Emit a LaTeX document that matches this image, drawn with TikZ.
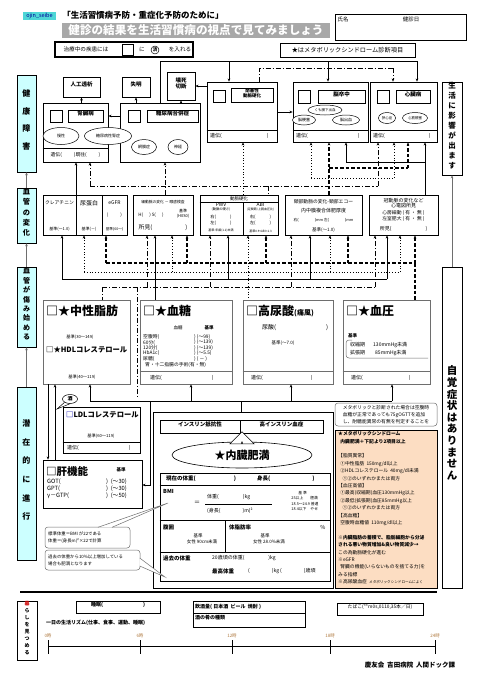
\documentclass[tikz,border=0pt]{standalone}
\usepackage{fontspec}
\setmainfont{Noto Sans CJK JP}
\usetikzlibrary{arrows.meta, positioning, fit, shapes.geometric, shapes.arrows, calc}
\definecolor{sidecyan}{HTML}{CCFFFF}
\definecolor{tagcyan}{HTML}{4ED6D6}
\definecolor{metapeach}{HTML}{FCDDC2}
\definecolor{bannergray}{HTML}{A8A8A8}
\definecolor{framegray}{HTML}{6E6E6E}
\definecolor{hourbrown}{HTML}{B07A40}
\newcommand{\fsz}[2]{\fontsize{#1}{#2}\selectfont}
\tikzstyle{frame} = [draw=black, line width=0.6pt, inner sep=0pt]
\tikzstyle{softframe} = [draw=framegray, line width=0.6pt, inner sep=0pt]
\tikzstyle{sidebox} = [frame, fill=sidecyan, align=center]
\tikzstyle{sqbox} = [frame, inner sep=0pt]
\tikzstyle{tagbox} = [frame, font=\fsz{5.5}{6.5}\bfseries, align=center]
\tikzstyle{oval} = [ellipse, draw=black, line width=0.5pt, fill=white, inner sep=0pt, font=\fsz{4}{5}]
\tikzstyle{txt} = [inner sep=0pt, font=\fsz{4.5}{5.5}]
\tikzstyle{big} = [inner sep=0pt, anchor=west, font=\fsz{12}{13}\bfseries]
\tikzstyle{link} = [line width=0.7pt]
\tikzstyle{headed} = [-{Stealth[length=3.2pt,width=2.6pt]}]
\tikzstyle{dotlink} = [line width=0.8pt, dotted]
\tikzstyle{dashlink} = [line width=1.1pt, dash pattern=on 3.5pt off 2pt]
\tikzstyle{ddlink} = [line width=0.8pt, dash pattern=on 5pt off 2pt on 1.2pt off 2pt]
\tikzstyle{sidelink} = [draw=framegray, line width=0.6pt, -{Stealth[length=3pt,width=2.5pt]}]

\begin{document}
\begin{tikzpicture}[x=1pt, y=-1pt]
  \fill[white] (0,0) rectangle (478,678);
  \useasboundingbox (0,0) rectangle (478,678);

  % === HEADER ===
  \node (tag) [fill=tagcyan, text=blue!60!black, inner sep=0pt, minimum width=33pt, minimum height=8pt, font=\fsz{5.5}{6}] at (39.5,16) {ojin\_seibe};
  \node (title) [txt, font=\fsz{8.5}{9}\bfseries] at (143,15) {「生活習慣病予防・重症化予防のために」};
  \node (banner) [fill=bannergray, inner sep=0pt, fit={(62,23) (330,38)}] {};
  \node (bannertxt) [txt, text=white, font=\fsz{11.6}{12}\bfseries] at (banner.center) {健診の結果を生活習慣病の視点で見てみましょう};
  \node (namebox) [frame, fit={(335,14) (466,40)}] {};
  \node (namelbl) [txt, font=\fsz{5.5}{6}] at (343,19) {氏名};
  \node (datelbl) [txt, font=\fsz{5.5}{6}] at (411,19) {健診日};
  \node (legend) [frame, line width=1.2pt, fit={(55,42) (193,57)}] {};
  \node (legtxt1) [txt, font=\fsz{5.6}{6}] at (86,49.5) {治療中の疾患には};
  \node (legsq) [sqbox, fit={(122,44.5) (133,55)}] {};
  \node (legni) [txt, font=\fsz{5.6}{6}] at (142,49.5) {に};
  \node (legdone) [circle, draw, line width=0.5pt, inner sep=0.6pt, font=\fsz{4.5}{5}\bfseries] at (155,50) {済};
  \node (legtxt2) [txt, font=\fsz{5.6}{6}] at (180,49.5) {を入れる};
  \node (starnote) [frame, line width=0.9pt, fit={(280,43) (415,57)}] {};
  \node (startxt) [txt, font=\fsz{6.2}{7}] at (starnote.center) {★はメタボリックシンドローム診断項目};

  % === SIDE BARS ===
  \node (health) [sidebox, fit={(17,75) (36,172)}, font=\fsz{8}{17.5}\bfseries] {健\\康\\障\\害};
  \node (vessel) [sidebox, fit={(17,188) (36,243)}, font=\fsz{7.2}{10.2}\bfseries] {血\\管\\の\\変\\化};
  \node (damage) [sidebox, fit={(17,267) (36,347)}, font=\fsz{7}{9.4}\bfseries] {血\\管\\が\\傷\\み\\始\\め\\る};
  \node (latent) [sidebox, fit={(17,387) (36,560)}, font=\fsz{8}{18.6}\bfseries] {潜\\在\\的\\に\\進\\行};
  \node (lifeeff) [frame, align=center, fit={(442,82) (462,175)}, font=\fsz{7.5}{10}\bfseries] {生\\活\\に\\影\\響\\が\\出\\ま\\す};
  \node (nosym) [frame, align=center, fit={(442,267) (462,588)}, font=\fsz{10.5}{11.6}\bfseries] {自\\覚\\症\\状\\は\\あ\\り\\ま\\せ\\ん};

  \draw[sidelink] (vessel.north) -- (health.south);
  \draw[sidelink] (damage.north) -- (vessel.south);
  \draw[sidelink] (latent.north) -- (damage.south);
  \draw[sidelink] (nosym.north) -- (lifeeff.south);

  % === HEALTH DAMAGE ROW ===
  \node (dialysis) [tagbox, fit={(63,77) (100,97)}] {人工透析};
  \node (blind) [tagbox, fit={(122,77) (150,97)}] {失明};
  \node (necro) [tagbox, fit={(167,72) (195,100)}] {壊死\\切断};

  \node (kidney) [frame, fit={(43,103) (108,162)}] {};
  \draw[link] (kidney.west |- 0,148) -- (kidney.east |- 0,148);
  \node (kidsq) [sqbox, fit={(50,110) (62,122)}] {};
  \node (kidlbl) [tagbox, fit={(68,110) (103,122)}] {腎臓病};
  \node (kidhist) [txt, font=\fsz{4.8}{6}] at (75.5,155) {遺伝(\hspace{12pt})既往(\hspace{12pt})};

  \node (diab) [frame, fit={(120,103) (200,162)}] {};
  \node (diabsq) [sqbox, fit={(128,110) (140,122)}] {};
  \node (diablbl) [tagbox, fit={(147,110) (198,122)}] {糖尿病合併症};
  \node (chronic) [oval, minimum width=36pt, minimum height=17pt] at (61,136) {慢性};
  \node (dmneph) [oval, minimum width=47pt, minimum height=17pt] at (108,136) {糖尿病性腎症};
  \node (retina) [oval, minimum width=25pt, minimum height=15pt] at (144,147) {網膜症};
  \node (nerve) [oval, minimum width=20pt, minimum height=15pt] at (178,147) {神経};

  \node (artery) [frame, fit={(207,82) (277,142)}] {};
  \draw[link] (artery.west |- 0,130) -- (artery.east |- 0,130);
  \node (artsq) [sqbox, fit={(213,90) (225,102)}] {};
  \node (artlbl) [tagbox, fit={(231,88) (273,102)}, font=\fsz{4.5}{5}\bfseries] {閉塞性\\動脈硬化};
  \node (arthist) [txt, anchor=west, font=\fsz{5}{6}] at (210,136) {遺伝(\hspace{45pt})};

  \node (stroke) [frame, fit={(293,82) (368,142)}] {};
  \draw[link] (stroke.west |- 0,130) -- (stroke.east |- 0,130);
  \node (strsq) [sqbox, fit={(298,90) (310,103)}] {};
  \node (strlbl) [tagbox, fit={(318,90) (365,103)}] {脳卒中};
  \node (subarach) [oval, minimum width=34pt, minimum height=10pt, font=\fsz{3.5}{4}] at (325,110) {くも膜下出血};
  \node (infarct) [oval, minimum width=23pt, minimum height=10pt] at (304,120) {脳梗塞};
  \node (bleed) [oval, minimum width=27pt, minimum height=10pt] at (346,120) {脳出血};
  \node (strhist) [txt, anchor=west, font=\fsz{5}{6}] at (296,136) {遺伝(\hspace{50pt})};

  \node (heart) [frame, fit={(370,82) (437,142)}] {};
  \draw[link] (heart.west |- 0,130) -- (heart.east |- 0,130);
  \node (hrtsq) [sqbox, fit={(377,90) (389,103)}] {};
  \node (hrtlbl) [tagbox, fit={(396,90) (430,103)}] {心臓病};
  \node (angina) [oval, minimum width=17pt, minimum height=11pt, font=\fsz{3.5}{4}] at (387,118) {狭心症};
  \node (mi) [oval, minimum width=25pt, minimum height=11pt, font=\fsz{3.5}{4}] at (415,118) {心筋梗塞};
  \node (hrthist) [txt, anchor=west, font=\fsz{5}{6}] at (373,136) {遺伝(\hspace{44pt})};

  \draw[link, headed] (kidney.north -| dialysis.south) -- (dialysis.south);
  \draw[link, headed] (diab.north -| blind.south) -- (blind.south);
  \draw[link, headed] (diab.north -| necro.south) -- (necro.south);
  \draw[link, headed] (diab.west |- kidlbl.center) -- (kidney.east |- kidlbl.center);
  \draw[link, headed] (artery.west |- necro.center) -- (necro.east);
  \draw[link, headed] (artery.east |- 0,112) -- (stroke.west |- 0,112);

  \coordinate (topL) at (160,61);
  \coordinate (topR) at (417,61);
  \draw[link] (topL |- diab.north) -- (topL) -- (topR);
  \draw[link, headed] (topR) -- (topR |- heart.north);
  \draw[link, headed] (229,61) -- (229,61 |- artery.north);
  \draw[link, headed] (328,61) -- (328,61 |- stroke.north);
  \coordinate (ddtopL) at (259,68);
  \coordinate (ddtopR) at (393,68);
  \draw[ddlink] (ddtopL |- artery.north) -- (ddtopL) -- (ddtopR);
  \draw[ddlink, headed] (ddtopR) -- (ddtopR |- heart.north);

  % === VESSEL CHANGE ROW ===
  \node (renal) [frame, fit={(43,195) (127,235)}] {};
  \draw[link] (76,195) -- (76,235);
  \draw[link] (102,195) -- (102,235);
  \node (creat) [txt, font=\fsz{4.8}{5}] at (59.5,203) {クレアチニン};
  \node (uprot) [txt, font=\fsz{6}{6}] at (89,203) {尿蛋白};
  \node (egfr) [txt, font=\fsz{5}{6}] at (114.5,203) {eGFR};
  \node (egfrv) [txt] at (114.5,215) {(\hspace{12pt})};
  \node (creatref) [txt, font=\fsz{4}{5}] at (59.5,229) {基準(～1.0)};
  \node (uprotref) [txt, font=\fsz{4}{5}] at (89,229) {基準(－)};
  \node (egfrref) [txt, font=\fsz{3.6}{5}] at (114.5,229) {基準(60～)};

  \node (fundus) [frame, fit={(133,195) (193,235)}] {};
  \node (fundhd) [txt, font=\fsz{3.8}{5}] at (163,202) {細動脈の変化\ －\ 眼底検査};
  \node (fundhs) [txt, font=\fsz{4.5}{5}] at (151,215) {H(\hspace{6pt})\ S(\hspace{6pt})};
  \node (fundref) [txt, align=center, font=\fsz{4}{5}] at (183,214) {基準\\(H0S0)};
  \node (fundobs) [txt, font=\fsz{5.8}{6}] at (163,228) {所見(\hspace{33pt})};

  \node (stiff) [frame, fit={(200,195) (278,235)}] {};
  \draw[link] (stiff.west |- 0,202) -- (stiff.east |- 0,202);
  \draw[link] (243,202) -- (243,235);
  \node (stiffhd) [txt, font=\fsz{4.5}{5}] at (239,198.5) {動脈硬化};
  \node (pwv) [txt, align=center, font=\fsz{5}{4}] at (221,207) {PWV\\[-0.5pt]{\fsz{3.3}{4}(動脈の硬さ)}};
  \node (pwvlr) [txt, align=left, font=\fsz{4.3}{6}] at (221,220) {右(\hspace{14pt})\\左(\hspace{14pt})};
  \node (pwvref) [txt, font=\fsz{3}{4}] at (221,231) {基準:年齢(1.2)未満};
  \node (abi) [txt, align=center, font=\fsz{5}{4}] at (260.5,207) {ABI\\[-0.5pt]{\fsz{3}{4}(足関節/上腕血圧比)}};
  \node (abilr) [txt, align=left, font=\fsz{4.3}{6}] at (260.5,220) {右(\hspace{14pt})\\左(\hspace{14pt})};
  \node (abiref) [txt, font=\fsz{3}{4}] at (260.5,231) {基準0.9<ABI<1.3};

  \node (carotid) [frame, fit={(285,195) (362,235)}] {};
  \node (carhd) [txt, font=\fsz{4.8}{5}] at (323.5,202) {頸部動脈の変化-頸部エコー};
  \node (carimt) [txt, font=\fsz{5}{5}] at (323.5,211) {内中膜複合体肥厚度};
  \node (carlr) [txt, font=\fsz{3.8}{5}] at (323.5,220) {右(\hspace{16pt})mm\ 左(\hspace{16pt})mm};
  \node (carref) [txt, font=\fsz{4.5}{5}] at (323.5,230) {基準(～1.0)};

  \node (ecg) [frame, fit={(369,195) (438,235)}] {};
  \node (ecghd) [txt, align=center, font=\fsz{5}{5.6}] at (403.5,203) {冠動脈の変化など\\心電図所見};
  \node (ecgaf) [txt, align=left, font=\fsz{4.8}{6}] at (403.5,216) {心房細動\ (\ 有\ ・\ 無\ )\\左室肥大\ (\ 有\ ・\ 無\ )};
  \node (ecgobs) [txt, font=\fsz{5}{6}] at (403.5,229) {所見(\hspace{34pt})};

  % === RISK FACTOR LINKS (row 1 - row 2) ===
  \draw[link, headed] (renal.north -| 76,0) -- (76,0 |- kidney.south);
  \coordinate (ddmidL) at (90,186);
  \coordinate (ddmidR) at (378,186);
  \draw[ddlink, headed] (ddmidL) -- (ddmidL |- kidney.south);
  \draw[ddlink] (ddmidL) -- (ddmidR);
  \draw[ddlink, headed] (ddmidR) -- (ddmidR |- heart.south);
  \draw[ddlink, headed] (fundus.north -| 165,0) -- (165,0 |- diab.south);
  \draw[ddlink] (268,186) -- (268,186 |- carotid.north);
  \draw[dotlink, headed] (stiff.north -| 243,0) -- (243,0 |- artery.south);
  \coordinate (dotmidL) at (311,178);
  \coordinate (dotmidR) at (394,178);
  \draw[dotlink, headed] (dotmidL) -- (dotmidL |- stroke.south);
  \draw[dotlink] (dotmidL) -- (dotmidR);
  \draw[dotlink, headed] (dotmidR) -- (dotmidR |- heart.south);
  \coordinate (dashmidL) at (329,168);
  \coordinate (dashmidR) at (408,168);
  \draw[dashlink, headed] (carotid.north -| dashmidL) -- (dashmidL |- stroke.south);
  \draw[dashlink] (dashmidL) -- (dashmidR);
  \draw[dashlink, headed] (dashmidR) -- (dashmidR |- heart.south);
  \coordinate (solmidL) at (346,162);
  \coordinate (solmidR) at (425,162);
  \draw[link, headed] (solmidL) -- (solmidL |- stroke.south);
  \draw[link] (solmidL) -- (solmidR);
  \draw[link, headed] (ecg.north -| solmidR) -- (solmidR |- heart.south);

  % === RISK FACTOR ROW ===
  \node (tg) [softframe, fit={(43,300) (130,384)}] {};
  \node (tgttl) [big] at (46,311) {□★中性脂肪};
  \node (tgref) [txt, font=\fsz{4.2}{5}] at (80,337) {基準(30～149)};
  \node (hdlttl) [big, font=\fsz{7.3}{8}\bfseries] at (46,350) {□★HDLコレステロール};
  \node (hdlref) [txt, font=\fsz{4.2}{5}] at (82,377) {基準(40～119)};

  \node (glucose) [softframe, fit={(140,300) (232,384)}] {};
  \draw[framegray, line width=0.6pt] (glucose.west |- 0,371) -- (glucose.east |- 0,371);
  \node (glttl) [big] at (143,311) {□★血糖};
  \node (glhd) [txt, font=\fsz{4.5}{5}] at (178,328) {血糖};
  \node (glrefhd) [txt, font=\fsz{4.5}{5}\bfseries] at (209,328) {基準};
  \foreach \lab/\val [count=\i] in {{空腹時(}/{)\ (～99)}, {60分(}/{)\ (～139)}, {120分(}/{)\ (～139)}, {HbA1c(}/{)\ (～5.5)}, {尿糖(}/{)\ (\ －\ )}} {
    \node (gll\i) [txt, anchor=west, font=\fsz{4.8}{5}] at (143,331.5+5.5*\i) {\lab};
    \node (glv\i) [txt, anchor=west, font=\fsz{4.8}{5}] at (194,331.5+5.5*\i) {\val};
  }
  \node (glop) [txt, anchor=west, font=\fsz{4.8}{5}] at (145,365) {胃・十二指腸の手術(有・無)};
  \node (glhist) [txt, anchor=west, font=\fsz{5}{6}] at (150,378) {遺伝(\hspace{50pt})};

  \node (urate) [softframe, fit={(243,300) (333,384)}] {};
  \draw[framegray, line width=0.6pt] (urate.west |- 0,371) -- (urate.east |- 0,371);
  \node (uattl) [big] at (246,311) {□高尿酸{\fsz{7}{8}(痛風)}};
  \node (uaval) [txt, anchor=west, font=\fsz{6}{6}] at (262,328) {尿酸(\hspace{50pt})};
  \node (uaref) [txt, font=\fsz{4.5}{5}] at (283,343) {基準(～7.0)};
  \node (uahist) [txt, anchor=west, font=\fsz{5}{6}] at (251,378) {遺伝(\hspace{48pt})};

  \node (bp) [softframe, fit={(343,300) (430,384)}] {};
  \draw[framegray, line width=0.6pt] (bp.west |- 0,371) -- (bp.east |- 0,371);
  \node (bpttl) [big] at (346,311) {□★血圧};
  \node (bpref) [txt, anchor=west, font=\fsz{4.5}{5}\bfseries] at (348,336) {基準};
  \draw[framegray, line width=0.5pt, rounded corners=3pt] (352,340) -- (346,340) -- (346,358) -- (428,358);
  \node (bpsys) [txt, anchor=west, font=\fsz{5}{5}] at (350,345) {収縮期\hspace{8pt}130mmHg未満};
  \node (bpdia) [txt, anchor=west, font=\fsz{5}{5}] at (350,353) {拡張期\hspace{10pt}85mmHg未満};
  \node (bphist) [txt, anchor=west, font=\fsz{5}{6}] at (351,378) {遺伝(\hspace{46pt})};

  % === RISK FACTOR LINKS (row 2 - row 3) ===
  \draw[dashlink] (106,263) -- (415,263);
  \foreach \x in {106,187,266,348,415} \draw[dashlink, headed] (\x,263) -- (\x,263 |- renal.south);
  \draw[dashlink] (415,263) -- (415,263 |- bp.north);
  \draw[dotlink] (84,272) -- (400,272);
  \foreach \x in {84,172,248,330,400} \draw[dotlink, headed] (\x,272) -- (\x,272 |- renal.south);
  \draw[dotlink] (248,272) -- (248,272 |- urate.north);
  \draw[link] (62,279) -- (387,279);
  \foreach \x in {62,155,228,310,387} \draw[link, headed] (\x,279) -- (\x,279 |- renal.south);
  \draw[link] (155,279) -- (155,279 |- glucose.north);
  \draw[ddlink] (102,287) -- (375,287);
  \foreach \x in {147,210,291,375} \draw[ddlink, headed] (\x,287) -- (\x,287 |- renal.south);
  \draw[ddlink] (102,287) -- (102,287 |- tg.north);
  \draw[ddlink] (137,287) -- (137,398);

  % === LDL / LIVER ===
  \node (ldl) [frame, fit={(63,407) (140,453)}] {};
  \draw[link] (ldl.west |- 0,442) -- (ldl.east |- 0,442);
  \node (ldlttl) [big, font=\fsz{7.3}{8}\bfseries] at (66,415) {{\color{blue!70!black}□}LDLコレステロール};
  \node (ldlref) [txt, font=\fsz{4.2}{5}] at (101,436) {基準(60～119)};
  \node (ldlhist) [txt, anchor=west, font=\fsz{5}{6}] at (67,448) {遺伝(\hspace{50pt})};
  \node (sake) [ellipse, draw, line width=0.5pt, inner sep=0pt, minimum width=15pt, minimum height=9pt, font=\fsz{5}{5}\bfseries] at (70,399) {酒};
  \draw[line width=0.5pt] (sake.south west) -- (57,409) -- (sake.south);

  \node (liver) [frame, fit={(43,460) (142,508)}] {};
  \node (liverttl) [big, font=\fsz{10.5}{11}\bfseries] at (46,471) {□肝機能};
  \node (liverref) [txt, font=\fsz{4.5}{5}\bfseries] at (121,470) {基準};
  \foreach \lab/\val [count=\i] in {{GOT(}/{)\ \ (～30)}, {GPT(}/{)\ \ (～30)}, {γ－GTP(}/{)\ \ (～50)}} {
    \node (lvl\i) [txt, anchor=west, font=\fsz{5.8}{6}] at (47,475+7*\i) {\lab};
    \node (lvv\i) [txt, anchor=west, font=\fsz{5.8}{6}] at (106,475+7*\i) {\val};
  }

  \draw[link, headed] (tg.south -| 48,0) -- (48,0 |- liver.north);
  \draw[link, headed] (liver.north -| 55,0) -- (55,0 |- tg.south);

  % === VISCERAL FAT ===
  \node (visceral) [frame, line width=0.8pt, fit={(153,412) (333,588)}] {};
  \node (insres) [tagbox, fit={(160,420) (240,433)}] {インスリン抵抗性};
  \node (hyperins) [tagbox, fit={(240,420) (323,433)}] {高インスリン血症};
  \node (vfat) [ellipse, draw, line width=0.6pt, inner sep=0pt, minimum width=140pt, minimum height=26pt, font=\fsz{11}{12}\bfseries] at (242,455) {★内臓肥満};
  \node (upshaft) [single arrow, draw, line width=0.5pt, fill=white, shape border rotate=90, inner sep=0pt, minimum width=24pt, minimum height=10pt, single arrow head extend=7pt, single arrow head indent=0pt] at (242,437) {};

  \node (bodytab) [frame, fit={(160,473) (330,581)}] {};
  \draw[link] (bodytab.west |- 0,485) -- (bodytab.east |- 0,485);
  \draw[link] (bodytab.west |- 0,520) -- (bodytab.east |- 0,520);
  \draw[link] (bodytab.west |- 0,552) -- (bodytab.east |- 0,552);
  \draw[link] (225,520) -- (225,552);
  \node (wnow) [txt, anchor=west, font=\fsz{5.5}{6}\bfseries] at (166,479) {現在の体重(\hspace{38pt})};
  \node (hnow) [txt, anchor=west, font=\fsz{5.5}{6}\bfseries] at (257,479) {身長(\hspace{42pt})};
  \node (bmi) [txt, anchor=west, font=\fsz{5.5}{6}\bfseries] at (163,491) {BMI};
  \node (bmieq) [txt, font=\fsz{6}{6}] at (197,503) {＝};
  \node (bmiw) [txt, anchor=west, font=\fsz{5}{6}] at (207,497.5) {体重(\hspace{24pt})kg};
  \draw[link] (205,504) -- (272,504);
  \node (bmih) [txt, anchor=west, font=\fsz{5}{6}] at (207,510.5) {(身長(\hspace{22pt})m)²};
  \node (bmiref) [txt, align=left, font=\fsz{3.8}{5.4}] at (305,501) {\hspace{7pt}基\ 準\\25以上\hspace{7pt}肥満\\18.5～24.9\ 普通\\18.4以下\hspace{4pt}やせ};
  \node (waist) [txt, anchor=west, font=\fsz{5.5}{6}\bfseries] at (163,527) {腹囲};
  \node (waistref) [txt, align=center, font=\fsz{4.5}{6.5}] at (198,539) {基準\\\hspace{8pt}女性\ 90cm未満};
  \node (bfat) [txt, anchor=west, font=\fsz{5.5}{6}\bfseries] at (229,527) {体脂肪率};
  \node (bfatpct) [txt, font=\fsz{5.5}{6}] at (323,527) {\%};
  \node (bfatref) [txt, align=center, font=\fsz{4.5}{6.5}] at (265,539) {基準\\\hspace{8pt}女性\ 28.0\%未満};
  \node (wpast) [txt, anchor=west, font=\fsz{5.5}{6}\bfseries] at (163,558) {過去の体重};
  \node (w20) [txt, anchor=west, font=\fsz{5}{6}] at (212,558) {20歳頃の体重(\hspace{24pt})kg};
  \node (wmax) [txt, anchor=west, font=\fsz{5.5}{6}\bfseries] at (212,571) {最高体重};
  \node (wmaxv) [txt, anchor=west, font=\fsz{5}{6}] at (248,571) {(\hspace{22pt})kg\ (\hspace{22pt})歳頃};

  % === LOWER LINKS ===
  \coordinate (lowL) at (90,401);
  \coordinate (lowR) at (392,401);
  \draw[link, headed] (lowL) -- (lowL |- tg.south);
  \draw[link] (lowL) -- (lowR);
  \draw[link, headed] (191,401) -- (191,401 |- glucose.south);
  \draw[link, headed] (291,401) -- (291,401 |- urate.south);
  \draw[link, headed] (lowR) -- (lowR |- bp.south);
  \draw[link] (visceral.north -| 241,0) -- (241,401);
  \draw[link, headed] (150,401) |- (liver.east |- 0,485);

  % === CALLOUTS ===
  \node (stdcall) [draw=framegray, line width=0.5pt, rounded corners=3pt, inner sep=0pt, fit={(45,527) (130,548)}] {};
  \node (stdtxt) [txt, align=left, anchor=west, font=\fsz{4.4}{7}] at (48,537.5) {標準体重＝BMI\ が22である\\体重＝(身長m)²×22で計算};
  \filldraw[fill=white, draw=framegray, line width=0.5pt] (98,527.3) -- (168,503) -- (112,527.3);
  \node (pastcall) [draw=framegray, line width=0.5pt, rounded corners=3pt, inner sep=0pt, fit={(45,550) (140,570)}] {};
  \node (pasttxt) [txt, align=left, anchor=west, font=\fsz{4.4}{7}] at (48,560) {過去の体重から10\%以上増加している\\場合も肥満となります};
  \filldraw[fill=white, draw=framegray, line width=0.5pt] (139.7,558) -- (165,577) -- (139.7,566);

  \node (metacall) [draw=framegray, line width=0.5pt, rounded corners=3pt, inner sep=0pt, fit={(335,403) (437,426)}] {};
  \node (metacalltxt) [txt, align=left, font=\fsz{4.8}{7}] at (metacall.center) {メタボリックと診断された場合は空腹時\\血糖が正常であっても75gOGTTを追加\\し、耐糖能異常の有無を判定することを};
  \node (meta) [draw=black, line width=0.6pt, fill=metapeach, inner sep=0pt, fit={(335,430) (437,588)}] {};
  \node (metatxt) [txt, anchor=north west, align=left, font=\fsz{4.8}{7.4}] at (338,431.5) {\textbf{★メタボリックシンドローム}\\\textbf{\ \ 内臓肥満＋下記より2項目以上}\\ \\【脂質異常】\\\ \ ①中性脂肪\ \ 150mg/dl以上\\\ \ ②HDLコレステロール\ \ 40mg/dl未満\\\ \ \ \ ①②のいずれかまたは両方\\【血圧高値】\\\ \ ①最高(収縮期)血圧130mmHg以上\\\ \ ②最低(拡張期)血圧85mmHg以上\\\ \ \ \ ①②のいずれかまたは両方\\【高血糖】\\\ \ 空腹時血糖値\ \ 110mg/dl以上\\ \\\textbf{※内臓脂肪の蓄積で、脂肪細胞から分泌}\\\textbf{される悪い物質増加\&良い物質減少→}\\この為動脈硬化が進む\\※eGFR\\\ \ 腎臓の機能(いらないものを捨てる力)を\\みる指標\\※高尿酸血症\ \ {\fsz{3.6}{7.4}メタボリックシンドロームによく}};

  % === DAILY LIFE ===
  \draw[line width=2pt] (20,592) -- (437,592);
  \node (life) [frame, align=center, fit={(17,601) (37,660)}, font=\fsz{5}{7}\bfseries] {{\color{red!80!black}暮}\\ら\\し\\を\\見\\つ\\め\\る};
  \node (sleep) [frame, line width=0.8pt, fit={(76,601) (160,613)}, font=\fsz{5}{6}\bfseries] {睡眠(\hspace{40pt})};
  \node (drink) [frame, fit={(193,601) (305,613)}] {};
  \node (drinktxt) [txt, anchor=west, font=\fsz{5}{6}\bfseries] at (195,607) {飲酒量(\ 日本酒\ \ ビール\ \ 焼酎\ )};
  \node (snack) [frame, fit={(193,613) (305,627)}] {};
  \node (snacktxt) [txt, anchor=west, font=\fsz{5}{6}\bfseries] at (195,618) {酒の肴の種類};
  \node (smoke) [frame, line width=0.8pt, fit={(337,603) (423,615)}, font=\fsz{4.8}{6}] {たばこ(**m0s,0110,35本／日)};
  \node (rhythm) [txt, anchor=west, font=\fsz{5}{6}\bfseries] at (46,623) {一日の生活リズム(仕事、食事、運動、睡眠)};
  \node (tline) [inner sep=0pt, fit={(48,646) (435,646)}] {};
  \draw[line width=0.8pt] (tline.west) -- (tline.east);
  \foreach \x/\h in {48/0, 140/6, 232/12, 330/18, 435/24} {
    \draw[line width=0.8pt] (\x,640) -- (\x,654);
    \node (hr\h) [txt, font=\fsz{4.5}{5}, text=hourbrown] at (\x,636) {\h 時};
  }
  \node (clinic) [txt, font=\fsz{6.5}{7}\bfseries] at (410,665) {慶友会\ \ 吉田病院\ \ 人間ドック課};
\end{tikzpicture}
\end{document}
